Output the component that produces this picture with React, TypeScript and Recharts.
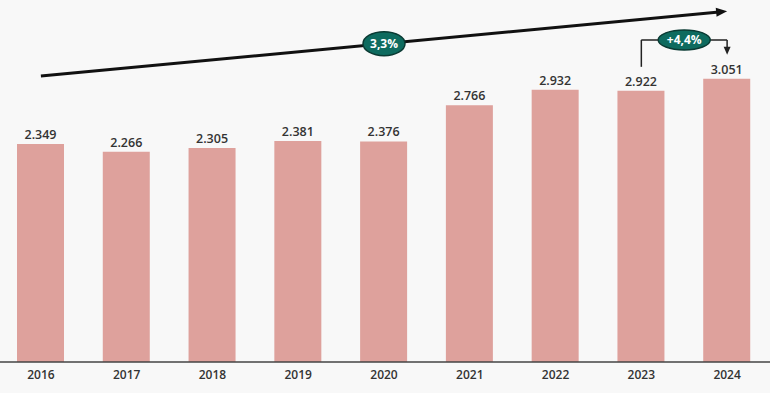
import { BarChart, Bar, XAxis, YAxis, LabelList, ReferenceLine, ReferenceDot } from 'recharts';

const YEARS = ['2016', '2017', '2018', '2019', '2020', '2021', '2022', '2023', '2024'];
const VALUES = [2.349, 2.266, 2.305, 2.381, 2.376, 2.766, 2.932, 2.922, 3.051];

// overall trend arrow (start / end heights in value units) and its label
const TREND_START = 3.08;
const TREND_END = 3.78;
const TREND_LABEL = '3,3%';
const TREND_LABEL_AT = 3.43;

// year-on-year bracket 2023 -> 2024
const BRACKET_FROM = 3.18;
const BRACKET_TOP = 3.47;
const BRACKET_TO = 3.31;
const BRACKET_LABEL = '+4,4%';

const BAR_COLOR = '#dea19c';
const TEAL = '#0e6b5f';
const FONT = '"Open Sans", sans-serif';

const data = YEARS.map((year, i) => ({ year, value: VALUES[i] }));

function arrowHead(x1: number, y1: number, x2: number, y2: number, len: number, half: number) {
  const a = Math.atan2(y2 - y1, x2 - x1);
  const bx = x2 - len * Math.cos(a);
  const by = y2 - len * Math.sin(a);
  const px = -Math.sin(a) * half;
  const py = Math.cos(a) * half;
  return `${x2},${y2} ${bx + px},${by + py} ${bx - px},${by - py}`;
}

function TrendShape(props: any) {
  const { x1, y1, x2, y2 } = props;
  const a = Math.atan2(y2 - y1, x2 - x1);
  return (
    <g>
      <line x1={x1} y1={y1} x2={x2 - 8 * Math.cos(a)} y2={y2 - 8 * Math.sin(a)} stroke="#111" strokeWidth={3} />
      <polygon points={arrowHead(x1, y1, x2, y2, 11, 4.5)} fill="#111" />
    </g>
  );
}

function PlainLine(props: any) {
  const { x1, y1, x2, y2 } = props;
  return <line x1={x1} y1={y1} x2={x2} y2={y2} stroke="#222" strokeWidth={1.5} />;
}

function ArrowDown(props: any) {
  const { x1, y1, x2, y2 } = props;
  return (
    <g>
      <line x1={x1} y1={y1} x2={x2} y2={y2 - 6} stroke="#222" strokeWidth={1.5} />
      <polygon points={arrowHead(x1, y1, x2, y2, 8, 3.5)} fill="#222" />
    </g>
  );
}

function Pill({ cx, cy, rx, ry, text }: { cx: number; cy: number; rx: number; ry: number; text: string }) {
  return (
    <g>
      <ellipse cx={cx} cy={cy} rx={rx} ry={ry} fill={TEAL} stroke="#0a3a33" strokeWidth={1.5} />
      <text x={cx} y={cy} dy="0.36em" textAnchor="middle" fill="#fff" fontFamily={FONT} fontWeight={700} fontSize={12}>
        {text}
      </text>
    </g>
  );
}

function BracketTop(props: any) {
  const { x1, y1, x2, y2 } = props;
  const cx = (x1 + x2) / 2;
  return (
    <g>
      <line x1={x1} y1={y1} x2={x2} y2={y2} stroke="#222" strokeWidth={1.5} />
      <Pill cx={cx} cy={y1} rx={26} ry={10} text={BRACKET_LABEL} />
    </g>
  );
}

export default function App() {
  return (
    <div style={{ position: 'fixed', left: 0, top: 0, width: 770, height: 393, background: '#f8f8f8', overflow: 'hidden' }}>
      <div style={{ position: 'absolute', left: -2, top: 0 }}>
        <BarChart width={772} height={393} data={data} margin={{ top: 0, right: 0, left: 0, bottom: 0 }} barCategoryGap={0}>
          <XAxis
            dataKey="year"
            height={31}
            tickLine={false}
            axisLine={{ stroke: '#444', strokeWidth: 1.5 }}
            tick={{ fill: '#333', fontSize: 12, fontFamily: FONT, fontWeight: 600 }}
            interval={0}
          />
          <YAxis hide domain={[0, 3.9]} />
          <Bar dataKey="value" fill={BAR_COLOR} barSize={47} isAnimationActive={false}>
            <LabelList
              dataKey="value"
              position="top"
              offset={5}
              formatter={(v: any) => Number(v).toFixed(3)}
              style={{ fill: '#333', fontSize: 12.5, fontFamily: FONT, fontWeight: 600 }}
            />
          </Bar>
          <ReferenceLine
            segment={[{ x: YEARS[0], y: TREND_START }, { x: YEARS[YEARS.length - 1], y: TREND_END }]}
            shape={TrendShape}
          />
          <ReferenceDot
            x="2020"
            y={TREND_LABEL_AT}
            shape={(p: any) => <Pill cx={p.cx} cy={p.cy} rx={21} ry={12} text={TREND_LABEL} />}
          />
          <ReferenceLine segment={[{ x: '2023', y: BRACKET_FROM }, { x: '2023', y: BRACKET_TOP }]} shape={PlainLine} />
          <ReferenceLine segment={[{ x: '2024', y: BRACKET_TOP }, { x: '2024', y: BRACKET_TO }]} shape={ArrowDown} />
          <ReferenceLine segment={[{ x: '2023', y: BRACKET_TOP }, { x: '2024', y: BRACKET_TOP }]} shape={BracketTop} />
        </BarChart>
      </div>
    </div>
  );
}
